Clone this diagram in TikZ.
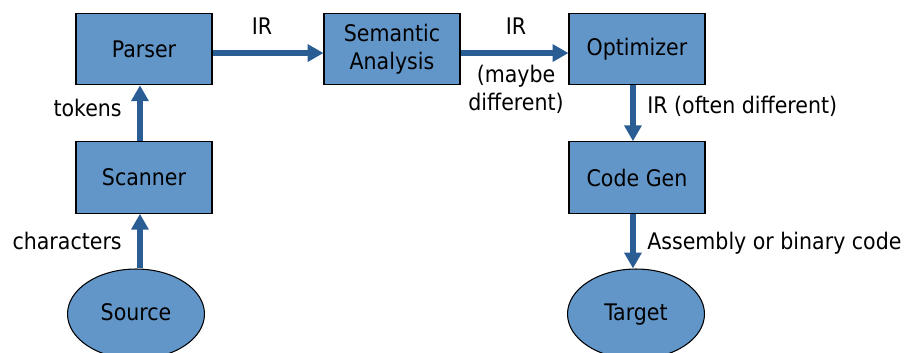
\documentclass[tikz,border=0pt]{standalone}
\usepackage{fontspec}
\setmainfont{DejaVu Sans Condensed}
\usetikzlibrary{arrows.meta,shapes.geometric}
\definecolor{boxblue}{RGB}{98,150,201}
\definecolor{flowblue}{RGB}{41,93,148}

\begin{document}
\begin{tikzpicture}[x=0.02cm,y=-0.02cm,font=\fontsize{13}{15.8}\selectfont,
  phase/.style={draw=black,line width=0.6pt,fill=boxblue,minimum width=2.72cm,
    minimum height=1.43cm,align=center,inner sep=0pt},
  io/.style={ellipse,draw=black,line width=0.6pt,fill=boxblue,minimum width=2.74cm,
    minimum height=1.8cm,inner sep=0pt,text height=9.5pt,text depth=2.5pt},
  lbl/.style={inner sep=0pt,align=center},
  flow/.style={draw=flowblue,line width=3.4pt,-{Triangle[width=9.5pt,length=9pt]}}]
  \useasboundingbox (0,0) rectangle (908,352);
  \clip (0,0) rectangle (908,352);
  % front end
  \node[phase] (parser) at (144,49) {Parser};
  \node[phase] (scanner) at (144,177.5) {Scanner};
  \node[io] (source) at (136,314) {Source};
  % middle
  \node[phase] (sem) at (392,49) {Semantic\\Analysis};
  % back end
  \node[phase] (opt) at (637,49) {Optimizer};
  \node[phase] (gen) at (637,177.5) {Code Gen};
  \node[io] (target) at (636,314) {Target};
  % connectors
  \draw[flow] ([xshift=-2.3pt]source.north -| scanner.south) -- ([xshift=-2.3pt]scanner.south);
  \draw[flow] ([xshift=-2.3pt]scanner.north) -- ([xshift=-2.3pt]parser.south);
  \draw[flow] ([yshift=-2.3pt]parser.east) -- ([yshift=-2.3pt]sem.west);
  \draw[flow] ([yshift=-2.3pt]sem.east) -- ([yshift=-2.3pt]opt.west);
  \draw[flow] ([xshift=-2.3pt]opt.south) -- ([xshift=-2.3pt]gen.north);
  \draw[flow] ([xshift=-2.3pt]gen.south) -- ([xshift=-2.3pt]gen.south |- target.north);
  % labels
  \node[lbl] (irA) at (262,26) {IR};
  \node[lbl] (irB) at (516,26) {IR};
  \node[lbl] (maybe) at (516,89) {(maybe\\different)};
  \node[lbl,anchor=east] (tok) at (122,108) {tokens};
  \node[lbl,anchor=west] (irC) at (647,106) {IR (often different)};
  \node[lbl,anchor=east] (chars) at (122,241) {characters};
  \node[lbl,anchor=west] (asm) at (647,243) {Assembly or binary code};
\end{tikzpicture}
\end{document}
